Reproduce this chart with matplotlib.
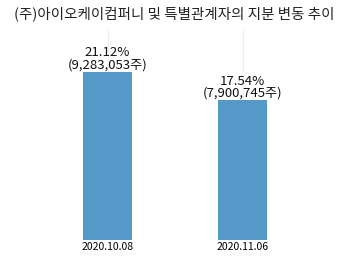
import matplotlib
matplotlib.use("Agg")
import matplotlib.pyplot as plt

plt.rcParams['font.family'] = ['Noto Sans CJK KR', 'DejaVu Sans']

categories = ["2020.10.08", "2020.11.06"]
ratios = [21.12, 17.54]
shares = ["9,283,053", "7,900,745"]
title = "(주)아이오케이컴퍼니 및 특별관계자의 지분 변동 추이"

fig = plt.figure(figsize=(3.49, 2.61), dpi=100)
ax = fig.add_axes([40/349, 21/261, 270/349, 211/261])

x = list(range(len(categories)))
ax.bar(x, ratios, width=0.37, color="#5599c8", zorder=2)
for xi, r, s in zip(x, ratios, shares):
    ax.text(xi, r + 0.05, f"{r:.2f}%\n({s}주)", ha="center", va="bottom",
            fontsize=9.5, linespacing=0.9, color="#111111")

ax.set_xlim(-0.5, 1.5)
ax.set_ylim(0, 26.5)
ax.set_xticks(x)
ax.set_xticklabels(categories, fontsize=7.5)
ax.tick_params(axis="x", length=0, pad=1.5)
ax.set_yticks([])
for sp in ax.spines.values():
    sp.set_visible(False)
ax.grid(axis="x", color="#eeeeee", linewidth=0.8, zorder=0)

fig.suptitle(title, fontsize=10.45, y=0.975, color="#222222")

fig.savefig("out.png", dpi=100)
